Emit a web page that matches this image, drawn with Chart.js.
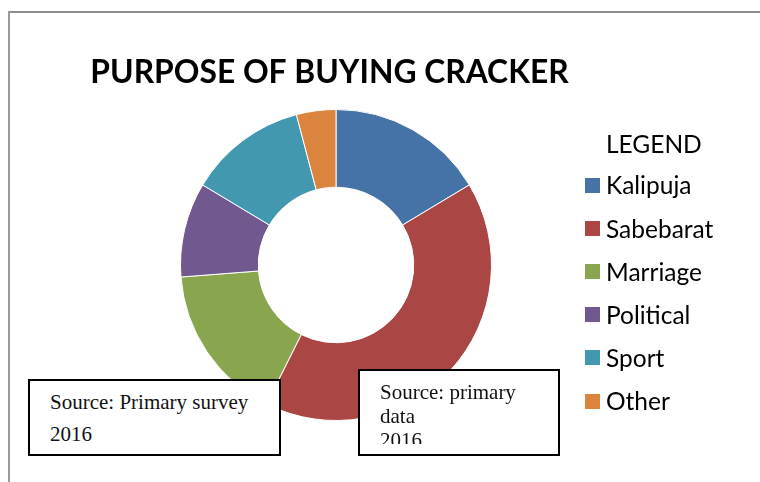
<!DOCTYPE html>
<html>
<head>
<meta charset="utf-8">
<title>Purpose of buying cracker</title>
<script src="https://cdn.jsdelivr.net/npm/chart.js@4.4.0/dist/chart.umd.min.js"></script>
<style>
  body { margin: 0; background: #fff; }
  #wrap { position: relative; width: 760px; height: 482px; overflow: hidden; }
  #wrap canvas { position: absolute; left: 0; top: 0; }
  .note {
    position: absolute;
    box-sizing: border-box;
    border: 2px solid #000;
    background: #fff;
    font-family: "Liberation Serif", "Times New Roman", serif;
    font-size: 21px;
    color: #111;
    overflow: hidden;
  }
  .note .txt { overflow: hidden; }
  #note1 { left: 28px; top: 379px; width: 253px; height: 77px; padding: 6px 0 0 20px; }
  #note1 .txt { line-height: 31.7px; }
  #note2 { left: 358px; top: 369px; width: 202px; height: 87px; padding: 9px 0 0 20px; }
  #note2 .txt { line-height: 24px; height: 64px; }
</style>
</head>
<body>
<div id="wrap">
  <canvas id="pieChart" width="760" height="482"></canvas>
  <div class="note" id="note1"><div class="txt">Source: Primary survey<br>2016</div></div>
  <div class="note" id="note2"><div class="txt">Source: primary<br>data<br>2016</div></div>
</div>
<script>
// datos
const purposes = ['Kalipuja', 'Sabebarat', 'Marriage', 'Political', 'Sport', 'Other'];
const respondents = [20, 50, 20, 12, 15, 5];
const chartTitle = 'PURPOSE OF BUYING CRACKER';
const legendTitle = 'LEGEND';

const sliceColors = ['#4572A7', '#AA4643', '#89A54E', '#71588F', '#4198AF', '#DB843D'];

// marco, titulo y leyenda dibujados a mano
const decor = {
  id: 'decor',
  beforeDraw(chart) {
    const ctx = chart.ctx;
    ctx.save();
    ctx.fillStyle = '#8c8c8c';
    ctx.fillRect(8, 11, 752, 2);
    ctx.fillStyle = '#9a9a9a';
    ctx.fillRect(8, 11, 2, 471);
    ctx.restore();
  },
  afterDraw(chart) {
    const ctx = chart.ctx;
    ctx.save();
    ctx.fillStyle = '#000';
    ctx.textAlign = 'center';
    ctx.textBaseline = 'alphabetic';
    ctx.font = 'bold 31.8px Lato';
    ctx.fillText(chartTitle, 329.5, 83);

    ctx.textAlign = 'left';
    ctx.textBaseline = 'middle';
    ctx.font = '24.5px Lato';
    ctx.fillText(legendTitle, 606, 145);

    const ds = chart.data.datasets[0];
    chart.data.labels.forEach((lbl, i) => {
      const y = 185.5 + i * 43.1;
      ctx.fillStyle = ds.backgroundColor[i];
      ctx.fillRect(585, Math.round(y - 7.5), 15, 15);
      ctx.fillStyle = '#000';
      ctx.fillText(lbl, 606, y + 1);
    });
    ctx.restore();
  }
};

const ctx = document.getElementById('pieChart').getContext('2d');
new Chart(ctx, {
  type: 'doughnut',
  data: {
    labels: purposes,
    datasets: [{
      data: respondents,
      backgroundColor: sliceColors,
      borderColor: '#ffffff',
      borderWidth: 1
    }]
  },
  options: {
    responsive: false,
    animation: false,
    devicePixelRatio: 1,
    cutout: '50%',
    layout: { padding: { left: 180, right: 268, top: 109, bottom: 61 } },
    plugins: {
      legend: { display: false },
      title: { display: false },
      tooltip: { enabled: false }
    }
  },
  plugins: [decor]
});
</script>
</body>
</html>
